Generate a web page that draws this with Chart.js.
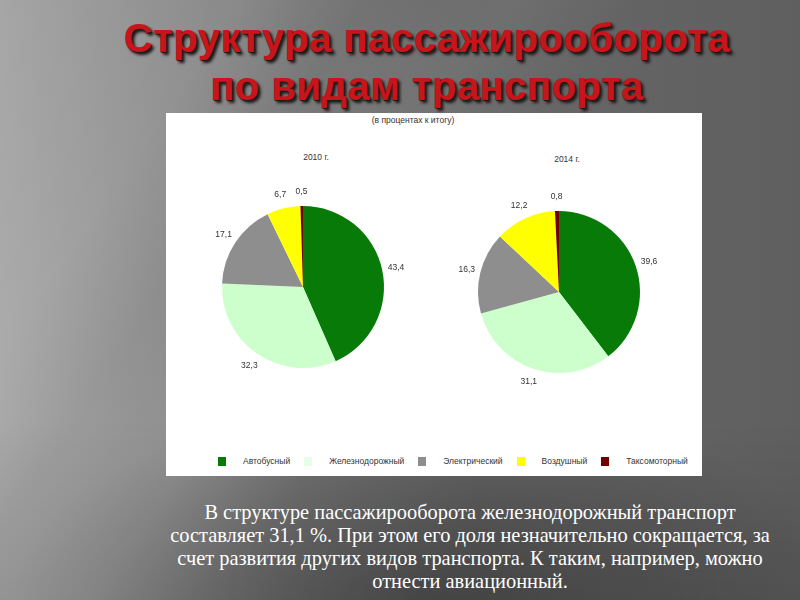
<!DOCTYPE html>
<html><head><meta charset="utf-8">
<script src="https://cdn.jsdelivr.net/npm/chart.js@4/dist/chart.umd.min.js"></script>
<style>
html,body{margin:0;padding:0;}
body{width:800px;height:600px;overflow:hidden;position:relative;
 background:
  radial-gradient(ellipse 420px 200px at 430px 600px, rgba(0,0,0,0.28) 0%, rgba(0,0,0,0) 100%),
  linear-gradient(125deg, rgba(255,255,255,0) 0%, rgba(255,255,255,0.06) 20%, rgba(255,255,255,0) 30%, rgba(255,255,255,0.05) 42%, rgba(255,255,255,0) 52%),
  linear-gradient(to bottom, rgba(0,0,0,0) 0%, rgba(0,0,0,0) 70%, rgba(0,0,0,0.12) 100%),
  linear-gradient(to right, #a6a6a6 0%, #909090 18%, #787878 38%, #686868 60%, #5f5f5f 100%);
 font-family:"Liberation Sans",Arial,sans-serif;}
#title{position:absolute;left:0;top:14px;width:854px;text-align:center;color:#c8141b;
 font-weight:bold;font-size:40px;line-height:48px;letter-spacing:0.5px;
 text-shadow:3px 3px 3px #1a1a1a, 1px 1px 1px #3a0000;}
#panel{position:absolute;left:166px;top:113px;width:536px;height:363px;background:#fff;}
.sub{position:absolute;font-size:8.5px;color:#333;transform:translateX(-50%);white-space:nowrap;}
.yr{position:absolute;font-size:8.5px;color:#333;transform:translateX(-50%);white-space:nowrap;}
canvas{position:absolute;}
#legend{position:absolute;left:218px;top:456px;display:flex;align-items:center;font-size:8.5px;color:#333;white-space:nowrap;}
#legend .it{display:flex;align-items:center;margin-right:14px;}
#legend .sw{width:8px;height:9px;margin-right:17px;}
#text{position:absolute;left:120px;top:501px;width:700px;text-align:center;color:#fff;
 font-family:"Liberation Serif","Times New Roman",serif;font-size:20.4px;line-height:23px;}
</style></head>
<body>
<div id="title">Структура пассажирооборота<br>по видам транспорта</div>
<div id="panel"></div>
<div class="sub" style="left:413px;top:115px;">(в процентах к итогу)</div>
<div class="yr" style="left:316px;top:152px;">2010 г.</div>
<div class="yr" style="left:567px;top:154px;">2014 г.</div>
<canvas id="c1" width="240" height="240" style="left:183px;top:167px;"></canvas>
<canvas id="c2" width="240" height="240" style="left:439px;top:172px;"></canvas>
<div id="legend"></div>
<div id="text">В структуре пассажирооборота железнодорожный транспорт<br>составляет 31,1 %. При этом его доля незначительно сокращается, за<br>счет развития других видов транспорта. К таким, например, можно<br>отнести авиационный.</div>
<script>
const categories = ["Автобусный","Железнодорожный","Электрический","Воздушный","Таксомоторный"];
const values2010 = [43.4, 32.3, 17.1, 6.7, 0.5];
const values2014 = [39.6, 31.1, 16.3, 12.2, 0.8];
const colors = ["#077a07","#ccffcc","#8e8e8e","#ffff00","#6e0000"];

const outsideLabels = {
  id:'outsideLabels',
  afterDatasetsDraw(chart){
    const ctx = chart.ctx;
    const meta = chart.getDatasetMeta(0);
    const ds = chart.data.datasets[0];
    ctx.save();
    ctx.font = '8.5px "Liberation Sans", Arial, sans-serif';
    ctx.fillStyle = '#333';
    ctx.textAlign = 'center';
    ctx.textBaseline = 'middle';
    meta.data.forEach((arc, i) => {
      const p = arc.getProps(['x','y','startAngle','endAngle','outerRadius'], true);
      const mid = (p.startAngle + p.endAngle) / 2;
      const r = p.outerRadius + 14;
      const txt = String(ds.data[i]).replace('.', ',');
      ctx.fillText(txt, p.x + Math.cos(mid) * r, p.y + Math.sin(mid) * r);
    });
    ctx.restore();
  }
};

function makePie(id, vals){
  return new Chart(document.getElementById(id), {
    type:'pie',
    data:{labels:categories, datasets:[{data:vals, backgroundColor:colors, borderWidth:0}]},
    options:{
      responsive:false, animation:false,
      layout:{padding:39},
      plugins:{legend:{display:false}, tooltip:{enabled:false}}
    },
    plugins:[outsideLabels]
  });
}
makePie('c1', values2010);
makePie('c2', values2014);

const lg = document.getElementById('legend');
categories.forEach((c, i) => {
  const it = document.createElement('div'); it.className = 'it';
  const sw = document.createElement('div'); sw.className = 'sw'; sw.style.background = colors[i];
  if (i === 1) sw.style.background = '#e6ffe6';
  const t = document.createElement('span'); t.textContent = c;
  it.appendChild(sw); it.appendChild(t); lg.appendChild(it);
});
</script>
</body></html>
